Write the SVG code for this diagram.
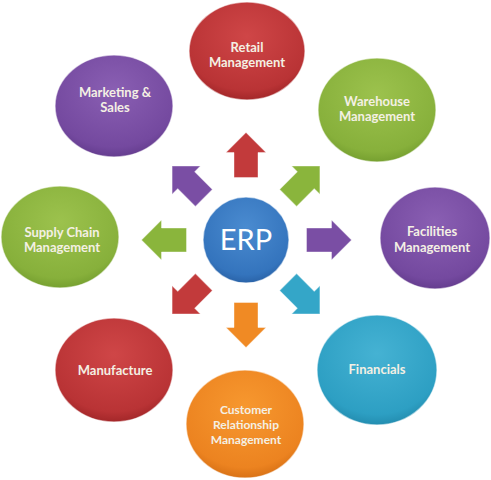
<svg xmlns="http://www.w3.org/2000/svg" width="491" height="480" viewBox="0 0 491 480">
<defs>
<radialGradient id="gRed" cx="50%" cy="35%" r="65%"><stop offset="0" stop-color="#cf4647"/><stop offset="0.85" stop-color="#b93335"/><stop offset="1" stop-color="#a32729"/></radialGradient>
<radialGradient id="gGreen" cx="50%" cy="35%" r="65%"><stop offset="0" stop-color="#9cc24d"/><stop offset="0.85" stop-color="#87b03b"/><stop offset="1" stop-color="#76a030"/></radialGradient>
<radialGradient id="gPurple" cx="50%" cy="35%" r="65%"><stop offset="0" stop-color="#8a5fb3"/><stop offset="0.85" stop-color="#74499f"/><stop offset="1" stop-color="#653d8f"/></radialGradient>
<radialGradient id="gCyan" cx="50%" cy="35%" r="65%"><stop offset="0" stop-color="#45b2d3"/><stop offset="0.85" stop-color="#2d9fc3"/><stop offset="1" stop-color="#238db0"/></radialGradient>
<radialGradient id="gOrange" cx="50%" cy="35%" r="65%"><stop offset="0" stop-color="#f7982f"/><stop offset="0.85" stop-color="#ec8320"/><stop offset="1" stop-color="#d97216"/></radialGradient>
<radialGradient id="gBlue" cx="50%" cy="35%" r="65%"><stop offset="0" stop-color="#4a8bd0"/><stop offset="0.85" stop-color="#3474bd"/><stop offset="1" stop-color="#2a63a8"/></radialGradient>
<path id="arr" d="M0,-22.5 L20,-2.5 L12,-2.5 L12,22.5 L-12,22.5 L-12,-2.5 L-20,-2.5 Z"/>
</defs>
<style>
.lbl{font-family:Lato,"Open Sans",sans-serif;font-weight:bold;font-size:13px;fill:#f4f0e4;text-anchor:middle}
.sm{font-size:12px}
.rim{stroke:#ffffff;stroke-opacity:0.55;stroke-width:1.5}
.ar{stroke:#ffffff;stroke-opacity:0.4;stroke-width:1}
</style>
<rect width="491" height="480" fill="#ffffff"/>

<g id="connectors">
<use href="#arr" fill="#c23a3b" class="ar" transform="translate(246,155)"/>
<use href="#arr" fill="#8ab53c" class="ar" transform="translate(304,182) rotate(45)"/>
<use href="#arr" fill="#7a4ea4" class="ar" transform="translate(329,240) rotate(90)"/>
<use href="#arr" fill="#34a6c8" class="ar" transform="translate(304,298) rotate(135)"/>
<use href="#arr" fill="#f08a24" class="ar" transform="translate(246,325) rotate(180)"/>
<use href="#arr" fill="#c23a3b" class="ar" transform="translate(188,298) rotate(225)"/>
<use href="#arr" fill="#8ab53c" class="ar" transform="translate(164,240) rotate(270)"/>
<use href="#arr" fill="#7a4ea4" class="ar" transform="translate(188,182) rotate(315)"/>
</g>

<g id="erp">
<circle cx="246" cy="240" r="43" fill="url(#gBlue)" class="rim"/>
<text x="246" y="250" font-family="Lato,'Open Sans',sans-serif" font-size="29" fill="#ffffff" text-anchor="middle">ERP</text>
</g>

<g id="retail">
<ellipse cx="247" cy="51" rx="58" ry="49" fill="url(#gRed)" class="rim"/>
<text class="lbl" x="247" y="52">Retail</text>
<text class="lbl" x="247" y="67">Management</text>
</g>

<g id="warehouse">
<ellipse cx="377" cy="110" rx="59" ry="52" fill="url(#gGreen)" class="rim"/>
<text class="lbl" x="377" y="106">Warehouse</text>
<text class="lbl" x="377" y="121">Management</text>
</g>

<g id="facilities">
<ellipse cx="435" cy="238" rx="55" ry="51" fill="url(#gPurple)" class="rim"/>
<text class="lbl" x="432" y="236">Facilities</text>
<text class="lbl" x="432" y="252">Management</text>
</g>

<g id="financials">
<ellipse cx="377" cy="370" rx="60" ry="55" fill="url(#gCyan)" class="rim"/>
<text class="lbl" x="377" y="374">Financials</text>
</g>

<g id="crm">
<ellipse cx="245" cy="424" rx="59" ry="54" fill="url(#gOrange)" class="rim"/>
<text class="lbl sm" x="246" y="414">Customer</text>
<text class="lbl sm" x="246" y="429">Relationship</text>
<text class="lbl sm" x="246" y="444">Management</text>
</g>

<g id="manufacture">
<ellipse cx="114" cy="370" rx="59" ry="52" fill="url(#gRed)" class="rim"/>
<text class="lbl" x="115" y="375">Manufacture</text>
</g>

<g id="supply">
<ellipse cx="60" cy="237" rx="59" ry="51" fill="url(#gGreen)" class="rim"/>
<text class="lbl" x="62" y="237">Supply Chain</text>
<text class="lbl" x="62" y="252">Management</text>
</g>

<g id="marketing">
<ellipse cx="114" cy="106" rx="59" ry="51" fill="url(#gPurple)" class="rim"/>
<text class="lbl" x="115" y="97">Marketing &amp;</text>
<text class="lbl" x="115" y="112">Sales</text>
</g>
</svg>
